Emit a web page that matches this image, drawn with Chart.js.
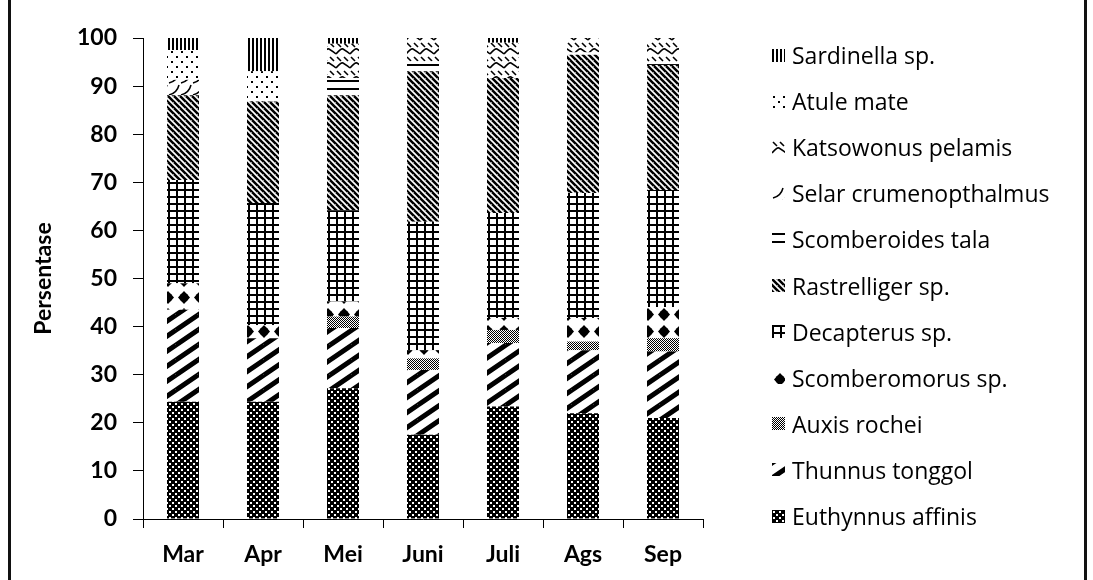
<!DOCTYPE html>
<html>
<head>
<meta charset="utf-8">
<script src="https://cdn.jsdelivr.net/npm/chart.js@4.4.1/dist/chart.umd.min.js"></script>
<style>
  body { margin: 0; background: #fff; }
  #wrap { position: relative; width: 1093px; height: 580px; overflow: hidden; background: #fff; }
  .edge { position: absolute; top: 0; width: 3px; height: 580px; background: #111; }
  #legend { position: absolute; left: 772px; top: 0; font-family: "Open Sans", Lato, sans-serif; font-size: 23px; color: #000; }
  .item { position: absolute; left: 0; height: 30px; display: flex; align-items: center; white-space: nowrap; }
  .item canvas { width: 13px; height: 13px; margin-right: 7px; }
</style>
</head>
<body>
<div id="wrap">
  <canvas id="chart"></canvas>
  <div id="legend"></div>
  <div class="edge" style="left:8px"></div>
  <div class="edge" style="left:1084px"></div>
</div>
<script>
// months on the x axis
const months = ["Mar", "Apr", "Mei", "Juni", "Juli", "Ags", "Sep"];
const yTicks = [0, 10, 20, 30, 40, 50, 60, 70, 80, 90, 100];

// percentages, stacked from the bottom up
const euthynnus     = [24.4, 24.4, 27.2, 17.5, 23.4, 22.0, 21.0];
const thunnus       = [19.1, 13.2, 12.5, 13.5, 13.2, 13.1, 13.8];
const auxis         = [0.0, 0.0, 2.4, 2.4, 2.7, 1.8, 2.8];
const scomberomorus = [5.5, 2.7, 3.1, 1.7, 2.5, 4.9, 6.5];
const decapterus    = [21.5, 25.4, 19.0, 26.7, 21.8, 26.0, 24.3];
const rastrelliger  = [17.6, 21.1, 23.9, 31.3, 28.1, 28.7, 26.0];
const scomberoides  = [0.0, 0.0, 3.6, 2.0, 0.0, 0.5, 0.6];
const selar         = [3.2, 0.0, 0.0, 0.0, 0.0, 0.0, 0.0];
const katsowonus    = [0.0, 0.0, 7.1, 4.9, 7.3, 3.0, 5.0];
const atule         = [6.2, 6.3, 0.0, 0.0, 0.0, 0.0, 0.0];
const sardinella    = [2.5, 6.9, 1.2, 0.0, 1.0, 0.0, 0.0];

const speciesNames = ["Euthynnus affinis", "Thunnus tonggol", "Auxis rochei", "Scomberomorus sp.",
  "Decapterus sp.", "Rastrelliger sp.", "Scomberoides tala", "Selar crumenopthalmus",
  "Katsowonus pelamis", "Atule mate", "Sardinella sp."];
const speciesValues = [euthynnus, thunnus, auxis, scomberomorus, decapterus, rastrelliger,
  scomberoides, selar, katsowonus, atule, sardinella];

// black & white fill patterns
function tile(w, h, draw) {
  const c = document.createElement("canvas");
  c.width = w; c.height = h;
  const g = c.getContext("2d");
  g.fillStyle = "#fff"; g.fillRect(0, 0, w, h);
  g.fillStyle = "#000"; g.strokeStyle = "#000";
  draw(g, w, h);
  return c;
}
function stripes(g, w, h, lw, rising) {
  g.lineWidth = lw;
  g.beginPath();
  for (let dx = -1; dx <= 1; dx++) {
    for (let dy = -1; dy <= 1; dy++) {
      if (rising) { g.moveTo(dx * w, h + dy * h); g.lineTo(w + dx * w, dy * h); }
      else { g.moveTo(dx * w, dy * h); g.lineTo(w + dx * w, h + dy * h); }
    }
  }
  g.stroke();
}
const tiles = [
  tile(6, 6, g => { g.fillRect(0, 0, 6, 6); g.fillStyle = "#fff"; g.fillRect(1, 1, 2, 2); g.fillRect(4, 4, 2, 2); }),
  tile(22, 15, (g, w, h) => stripes(g, w, h, 5, true)),
  tile(4, 4, g => { for (let x = 0; x < 4; x++) for (let y = 0; y < 4; y++) if ((x + y) % 2 === 0) g.fillRect(x, y, 1, 1); }),
  tile(16, 17, g => {
    g.beginPath(); g.moveTo(8, 2); g.lineTo(14, 8.5); g.lineTo(8, 15); g.lineTo(2, 8.5); g.closePath(); g.fill();
    g.beginPath(); g.arc(8, 8.5, 4.5, 0, Math.PI * 2); g.fill();
  }),
  tile(8, 7, g => { g.fillRect(0, 0, 2, 7); g.fillRect(0, 0, 8, 2); }),
  tile(6, 6, (g, w, h) => stripes(g, w, h, 2.5, false)),
  tile(1, 8, g => { g.fillRect(0, 0, 1, 2); }),
  tile(12, 12, g => {
    g.lineWidth = 1.5; g.beginPath(); g.moveTo(1, 11); g.quadraticCurveTo(9, 9, 11, 1); g.stroke();
  }),
  tile(14, 14, g => {
    g.lineWidth = 1.6; g.beginPath();
    g.moveTo(1, 1); g.lineTo(5, 5); g.moveTo(8, 1); g.lineTo(12, 5);
    g.moveTo(0, 12); g.quadraticCurveTo(5, 6, 7, 7); g.quadraticCurveTo(9, 8, 14, 12);
    g.stroke();
  }),
  tile(10, 10, g => { g.fillRect(1, 1, 2, 2); g.fillRect(6, 6, 2, 2); }),
  tile(4, 1, g => { g.fillRect(0, 0, 2, 1); })
];
const patCtx = document.createElement("canvas").getContext("2d");
const patterns = tiles.map(t => patCtx.createPattern(t, "repeat"));

const datasets = speciesNames.map((name, i) => ({
  label: name,
  data: speciesValues[i],
  backgroundColor: patterns[i],
  borderWidth: 0,
  categoryPercentage: 1.0,
  barPercentage: 0.4
}));

const axisFont = { family: "Lato", size: 23, weight: "bold" };

new Chart(document.getElementById("chart"), {
  type: "bar",
  data: { labels: months, datasets: datasets },
  options: {
    responsive: true,
    maintainAspectRatio: false,
    animation: false,
    layout: { padding: { top: 38, right: 390, bottom: 0, left: 0 } },
    plugins: { legend: { display: false }, tooltip: { enabled: false } },
    scales: {
      x: {
        stacked: true,
        grid: { drawOnChartArea: false, drawTicks: true, tickLength: 9, color: "#000", offset: true },
        border: { color: "#000", width: 1 },
        ticks: { font: axisFont, color: "#000", padding: 13 },
        afterFit: s => { s.height = 61; }
      },
      y: {
        stacked: true,
        min: 0,
        max: 100,
        afterBuildTicks: s => { s.ticks = yTicks.map(v => ({ value: v })); },
        grid: { drawOnChartArea: false, drawTicks: true, tickLength: 10, color: "#000" },
        border: { color: "#000", width: 1 },
        ticks: { font: axisFont, color: "#000", padding: 16 },
        title: { display: true, text: "Persentase", font: axisFont, color: "#000", padding: { top: 30, bottom: 0 } },
        afterFit: s => { s.width = 143; }
      }
    }
  }
});

// legend on the right, top entry is the top of the stack
const legend = document.getElementById("legend");
for (let k = 0; k < speciesNames.length; k++) {
  const i = speciesNames.length - 1 - k;
  const row = document.createElement("div");
  row.className = "item";
  row.style.top = (55 + 46.1 * k - 15) + "px";
  const sw = document.createElement("canvas");
  sw.width = 13; sw.height = 13;
  const sg = sw.getContext("2d");
  sg.fillStyle = sg.createPattern(tiles[i], "repeat");
  sg.fillRect(0, 0, 13, 13);
  row.appendChild(sw);
  row.appendChild(document.createTextNode(speciesNames[i]));
  legend.appendChild(row);
}
</script>
</body>
</html>
